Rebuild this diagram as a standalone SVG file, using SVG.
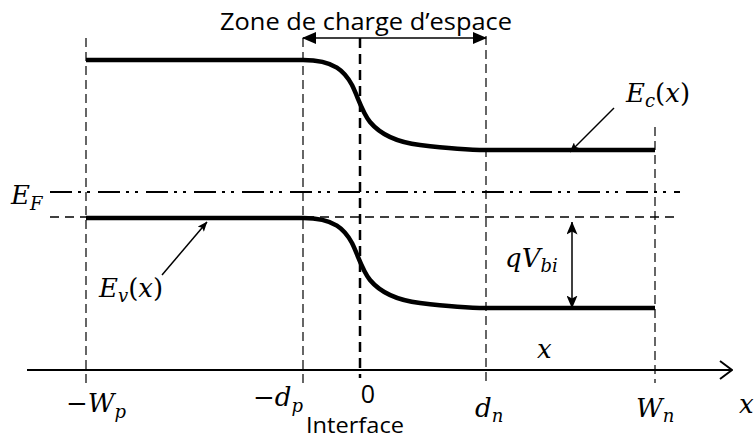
<svg xmlns="http://www.w3.org/2000/svg" width="755" height="439" viewBox="0 0 755 439">
<style>
.sans{font-family:"Open Sans","Liberation Sans",sans-serif;fill:#000}
.m{font-family:"DejaVu Serif","Liberation Serif",serif;font-style:italic;font-size:26px;fill:#000}
.up{font-style:normal}
.sub{font-size:18px}
.vd{stroke:#000;stroke-width:1.2;stroke-dasharray:9 5;fill:none}
.band{stroke:#000;stroke-width:4.5;fill:none}
.thin{stroke:#000;stroke-width:1.5;fill:none}
</style>
<defs>
<marker id="tri" viewBox="0 0 14 12" refX="13" refY="6" markerWidth="14" markerHeight="12" markerUnits="userSpaceOnUse" orient="auto-start-reverse">
<path d="M0,0 L14,6 L0,12 Z" fill="#000"/>
</marker>
<marker id="sm" viewBox="0 0 10 8" refX="9.5" refY="4" markerWidth="10" markerHeight="8" markerUnits="userSpaceOnUse" orient="auto">
<path d="M0,0 L10,4 L0,8 L2,4 Z" fill="#000"/>
</marker>
<marker id="st" viewBox="0 0 13 11" refX="12.5" refY="5.5" markerWidth="13" markerHeight="11" markerUnits="userSpaceOnUse" orient="auto-start-reverse">
<path d="M0,0 L13,5.5 L0,11 L3,5.5 Z" fill="#000"/>
</marker>
<marker id="open" viewBox="0 0 14 20" refX="13" refY="10" markerWidth="14" markerHeight="20" markerUnits="userSpaceOnUse" orient="auto">
<path d="M1,1 L13,10 L1,19" fill="none" stroke="#000" stroke-width="2"/>
</marker>
</defs>

<g id="guides">
<line class="vd" x1="86" y1="38" x2="86" y2="383"/>
<line class="vd" x1="303" y1="38" x2="303" y2="383"/>
<line x1="360" y1="38" x2="360" y2="378" stroke="#000" stroke-width="2.5" stroke-dasharray="10 6"/>
<line class="vd" x1="486" y1="36" x2="486" y2="383"/>
<line class="vd" x1="655" y1="127" x2="655" y2="383"/>
<line id="fermi" x1="50" y1="192" x2="680" y2="192" stroke="#000" stroke-width="2" stroke-dasharray="22 6 3 6 3 8"/>
<line id="ref-level" x1="50" y1="217" x2="680" y2="217" stroke="#000" stroke-width="1.6" stroke-dasharray="9 6"/>
</g>

<g id="Ec">
<path class="band" d="M86,60 H303 C335,60 345,72 352,85 C358,97 362,112 370,122 C380,134 395,142 420,145 C445,148 465,150 486,150 H655"/>
</g>
<g id="Ev">
<path class="band" d="M86,218 H303 C335,218 345,230 352,243 C358,255 362,270 370,280 C380,292 395,300 420,303 C445,306 465,308 486,308 H655"/>
</g>

<g id="axis">
<line x1="27" y1="370" x2="732" y2="370" stroke="#000" stroke-width="2" marker-end="url(#open)"/>
</g>

<g id="connectors">
<line class="thin" x1="303" y1="38" x2="486" y2="38" stroke-width="1.3" marker-start="url(#tri)" marker-end="url(#tri)"/>
<line class="thin" x1="614" y1="108" x2="570" y2="152" marker-end="url(#sm)"/>
<line class="thin" x1="162" y1="275" x2="207" y2="222" marker-end="url(#sm)"/>
<line class="thin" x1="572" y1="222" x2="572" y2="308" marker-start="url(#st)" marker-end="url(#st)"/>
</g>

<g id="labels">
<text class="sans" x="366" y="30" font-size="23" text-anchor="middle" textLength="292" lengthAdjust="spacingAndGlyphs">Zone de charge d’espace</text>
<text class="sans" x="355" y="433" font-size="21" text-anchor="middle" textLength="98" lengthAdjust="spacingAndGlyphs">Interface</text>
<text class="sans" x="368" y="403" font-size="25" text-anchor="middle">0</text>

<text class="m" x="11" y="204">E<tspan class="sub" dy="6">F</tspan></text>
<text class="m" x="626" y="102">E<tspan class="sub" dy="5">c</tspan><tspan class="up" dy="-5">(</tspan>x<tspan class="up">)</tspan></text>
<text class="m" x="99" y="297">E<tspan class="sub" dy="5">v</tspan><tspan class="up" dy="-5">(</tspan>x<tspan class="up">)</tspan></text>
<text class="m" x="505" y="267">qV<tspan class="sub" dy="5">bi</tspan></text>
<text class="m" x="537" y="358">x</text>
<text class="m" x="739" y="413">x</text>
<text class="m" x="66" y="412"><tspan class="up">−</tspan>W<tspan class="sub" dy="6">p</tspan></text>
<text class="m" x="253" y="406"><tspan class="up">−</tspan>d<tspan class="sub" dy="6">p</tspan></text>
<text class="m" x="475" y="417">d<tspan class="sub" dy="5">n</tspan></text>
<text class="m" x="636" y="417">W<tspan class="sub" dy="5">n</tspan></text>
</g>
</svg>
